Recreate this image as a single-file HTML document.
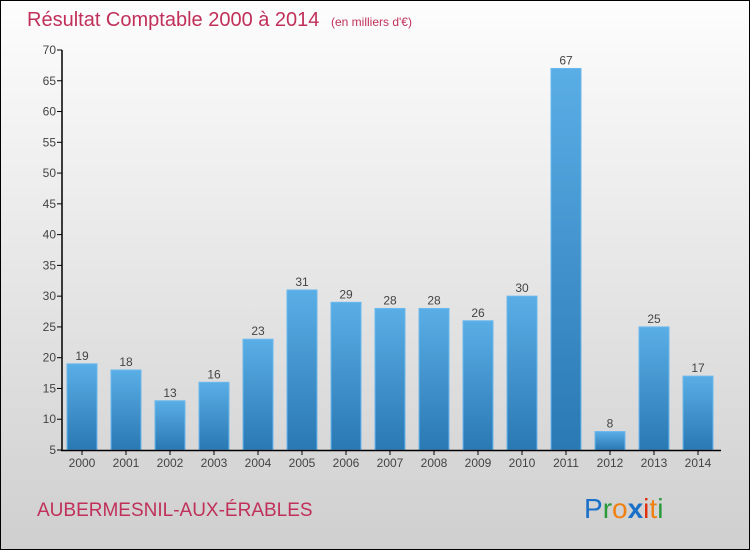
<!DOCTYPE html>
<html><head><meta charset="utf-8"><style>
body{margin:0;}
#wrap{position:relative;width:748px;height:548px;border:1px solid #000;background:linear-gradient(#fdfdfd,#cfcfcf);overflow:hidden;font-family:"Liberation Sans",sans-serif;}
</style></head><body>
<div id="wrap">
<svg id="svg" width="748" height="548" xmlns="http://www.w3.org/2000/svg">
<defs><linearGradient id="bg" x1="0" y1="0" x2="0" y2="1"><stop offset="0" stop-color="#5aaee6"/><stop offset="1" stop-color="#2a78b4"/></linearGradient></defs>
<text x="26" y="25" font-size="20" fill="#c0305a">Résultat Comptable 2000 à 2014 <tspan font-size="12" dx="6">(en milliers d'€)</tspan></text>
<text x="36" y="515" font-size="19" fill="#c0305a">AUBERMESNIL-AUX-ÉRABLES</text>
<g font-size="28">
<text x="583" y="517"><tspan fill="#1a70c8">P</tspan><tspan fill="#2a9a3a">r</tspan><tspan fill="#f08010">o</tspan><tspan fill="#1a70c8" font-weight="bold">x</tspan><tspan fill="#e03010">i</tspan><tspan fill="#f08010">t</tspan><tspan fill="#2a9a3a">i</tspan></text></g>
<g id="plot"></g>
</svg></div>
<script>
const years=["2000","2001","2002","2003","2004","2005","2006","2007","2008","2009","2010","2011","2012","2013","2014"];
const values=[19,18,13,16,23,31,29,28,28,26,30,67,8,25,17];
const yTicks=[5,10,15,20,25,30,35,40,45,50,55,60,65,70];
const ns="http://www.w3.org/2000/svg";
const g=document.getElementById('plot');
const y=v=>449-(v-5)*(400/65);
const x=i=>81+i*44;
function mk(t,a){const e=document.createElementNS(ns,t);for(const k in a)e.setAttribute(k,a[k]);g.appendChild(e);return e;}
yTicks.forEach(v=>{
 const l=mk('line',{x1:56,x2:61,y1:y(v),y2:y(v),stroke:'#000'});
 
 
 const t=mk('text',{x:55,y:y(v)+4,'font-size':12,'text-anchor':'end',fill:'#444'});
 t.textContent=v;
 
 
});
values.forEach((v,i)=>{
 const r=mk('rect',{x:x(i)-15,y:y(v),width:30,height:449-y(v),fill:'url(#bg)',stroke:'#6ab8ee','stroke-width':1});
 
 
 const t=mk('text',{x:x(i),y:y(v)-4,'font-size':12,'text-anchor':'middle',fill:'#444'});
 t.textContent=v;
 
 
 const tk=mk('line',{x1:x(i),x2:x(i),y1:449,y2:454,stroke:'#000'});
 
 
 const xl=mk('text',{x:x(i),y:466,'font-size':12,'text-anchor':'middle',fill:'#444'});
 xl.textContent=years[i];
 
 
});
const ya=mk('line',{x1:61,x2:61,y1:49,y2:450,stroke:'#000','stroke-width':1.5});


const xa=mk('line',{x1:60,x2:720,y1:449.5,y2:449.5,stroke:'#000','stroke-width':1.5});


</script>
</body></html>
